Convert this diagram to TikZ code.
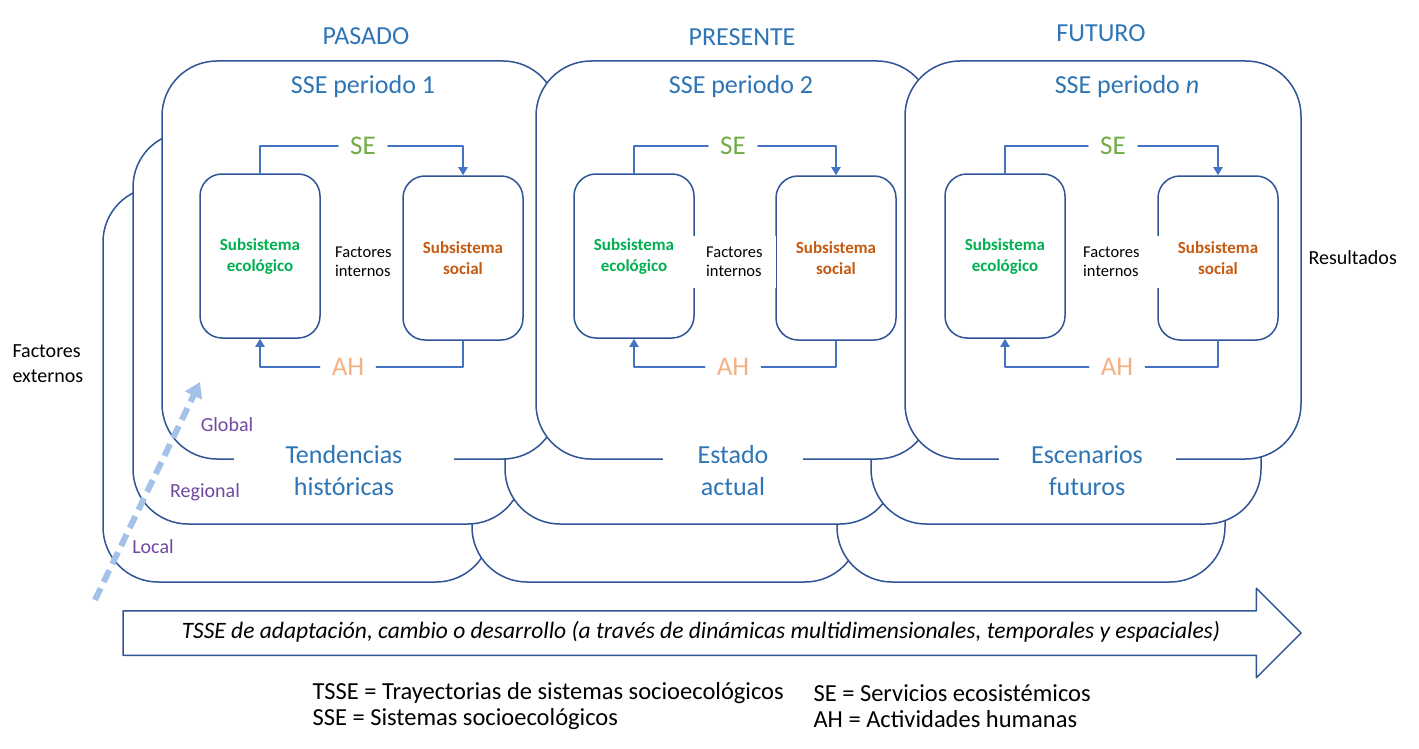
\documentclass[tikz,border=0pt]{standalone}
\usepackage{fontspec}
\setmainfont{Carlito}
\usetikzlibrary{arrows.meta,shapes.arrows}
\definecolor{azulosc}{RGB}{47,85,151}
\definecolor{azulflecha}{RGB}{68,114,196}
\definecolor{azultexto}{RGB}{46,117,182}
\definecolor{verdese}{RGB}{112,173,71}
\definecolor{naranjaah}{RGB}{244,177,131}
\definecolor{verdeeco}{RGB}{0,176,80}
\definecolor{naranjasoc}{RGB}{197,90,17}
\definecolor{morado}{RGB}{112,72,160}
\definecolor{celeste}{RGB}{164,194,232}
\begin{document}
\begin{tikzpicture}[x=1pt,y=-1pt,line join=round,line cap=round,>={Triangle[width=9pt,length=8pt]},
	capa/.style={draw=azulosc,line width=1.5pt,fill=white,rounded corners=55pt},
	subsis/.style={draw=azulosc,line width=1.5pt,rounded corners=22pt,minimum width=120pt,minimum height=164pt,align=center,font=\fontsize{17}{21}\selectfont\bfseries},
	enlace/.style={draw=azulflecha,line width=1.8pt},
	etiq/.style={font=\fontsize{27}{32}\selectfont,inner xsep=12pt,inner ysep=2pt},
	titulo/.style={text=azultexto,font=\fontsize{26}{32}\selectfont,align=center},
	factores/.style={anchor=west,align=left,fill=white,inner xsep=13pt,minimum height=52pt,font=\fontsize{16.5}{19}\selectfont},
	nivel/.style={text=morado,font=\fontsize{20}{24}\selectfont},
	nota/.style={anchor=west,align=left,font=\fontsize{20}{25}\selectfont},
	leyenda/.style={anchor=west,align=left,font=\fontsize{24.5}{26}\selectfont},
	flecha/.style={single arrow,draw=azulosc,line width=1.5pt,fill=white,minimum height=1178pt,single arrow head extend=22.5pt,single arrow head indent=0pt,single arrow tip angle=90,inner ysep=11.5pt,text height=15pt,text depth=5pt,font=\fontsize{23.5}{26}\selectfont\itshape},
	escala/.style={draw=celeste,line width=6pt,line cap=butt,dash pattern=on 13pt off 7pt,-{Triangle[width=18pt,length=15pt]}}]
	\useasboundingbox (0,0) rectangle (1419,749);
	% capas local, regional, global
	\foreach \x/\ya/\w/\yb in {103/187/388/582,472/187/388/582,837/187/388/582,133/132/390/524,505/132/390/524,871/132/390/524,162/61/396/459,536/61/396/459,905/61/396/459}
		\draw[capa] (\x,\ya) rectangle (\x+\w,\yb);
	\foreach \t/\x/\y in {PASADO/366/36,PRESENTE/742/37,FUTURO/1101/33}
		\node[titulo] (\t) at (\x,\y) {\t};
	% periodos
	\foreach \i/\per/\ex/\sx/\sex/\ahx/\fx/\wf/\tx/\bx/\bw/\estado in {1/1/260/463/363/348/335/52/363/344/220/{Tendencias\\históricas},2/2/634/836/733/733/706/57/741/733/140/{Estado\\actual},3/\textit{n}/1005/1218/1113/1117/1083/66/1127/1087/177/{Escenarios\\futuros}}{
		\node[titulo] (sse\i) at (\tx,87) {SSE periodo \per};
		\node[subsis,text=verdeeco] (eco\i) at (\ex,256) {Subsistema\\ecológico};
		\node[subsis,text=naranjasoc] (soc\i) at (\sx,258) {Subsistema\\social};
		\node[etiq,text=verdese] (se\i) at (\sex,146) {SE};
		\node[etiq,text=naranjaah] (ah\i) at (\ahx,367) {AH};
		\draw[enlace] (eco\i.north) |- (se\i.west);
		\draw[enlace,->] (se\i.east) -| (soc\i.north);
		\draw[enlace] (soc\i.south) |- (ah\i.east);
		\draw[enlace,->] (ah\i.west) -| (eco\i.south);
		\node[factores,text width=\wf pt] (fi\i) at (\fx-13,262) {Factores\\internos};
		\node[titulo,fill=white,minimum width=\bw pt,inner ysep=0pt] (est\i) at (\bx,471) {\estado};
	}
	\foreach \t/\x/\y in {Global/227/425,Regional/205/492,Local/153/547}
		\node[nivel] (\t) at (\x,\y) {\t};
	\node[nota] (externos) at (9,364) {Factores\\externos};
	\node[nota] (resultados) at (1305,258) {Resultados};
	\node[flecha] (tsse) at (701,633) {TSSE de adaptación, cambio o desarrollo (a través de dinámicas multidimensionales, temporales y espaciales)};
	\node[leyenda] (ley1) at (309,706) {TSSE = Trayectorias de sistemas socioecológicos\\SSE = Sistemas socioecológicos};
	\node[leyenda] (ley2) at (810,706) {SE = Servicios ecosistémicos\\AH = Actividades humanas};
	\coordinate (esc0) at (95,600);
	\coordinate (esc1) at (200,382);
	\draw[escala] (esc0) -- (esc1);
\end{tikzpicture}
\end{document}
